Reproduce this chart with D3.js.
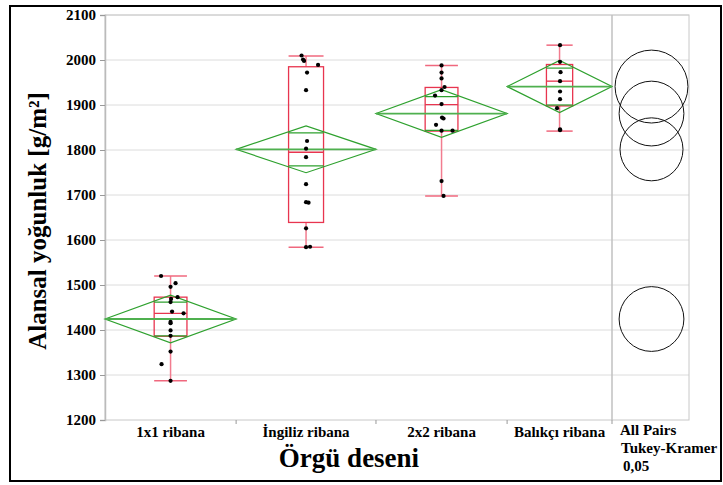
<!DOCTYPE html>
<meta charset="utf-8">
<style>
  body { margin: 0; background: #fff; }
  text { font-family: "Liberation Serif", "Times New Roman", serif; font-weight: bold; }
</style>
<body>
<div id="chart"></div>
<script src="https://d3js.org/d3.v7.min.js"></script>
<script>

// Data
var groups = ["1x1 ribana", "İngiliz ribana", "2x2 ribana", "Balıkçı ribana"];
var groupN = [15, 16, 15, 12];           // sample sizes (set the group widths)
var means  = [1424.4, 1801.5, 1881, 1941];
var ciHalf = [53, 52, 53, 58];            // half height of the mean diamonds
var qLow   = [1287, 1584, 1698, 1842];    // whisker ends
var q1     = [1386, 1639, 1842, 1898];
var median = [1437, 1795, 1901, 1953];
var q3     = [1473, 1985, 1939, 1990];
var qHigh  = [1520, 2009, 1988, 2033];
var tukeyRadius = [72, 70, 72, 81];       // comparison circle radii, in g/m²
var points = [
  [1520, 1504, 1496, 1473, 1469, 1462, 1441, 1437, 1418, 1415, 1399, 1387, 1352, 1324, 1287],
  [2010, 2001, 1998, 1989, 1972, 1933, 1820, 1803, 1784, 1724, 1684, 1683, 1626, 1584, 1585],
  [1988, 1972, 1959, 1940, 1933, 1921, 1902, 1872, 1870, 1856, 1843, 1843, 1731, 1698],
  [2033, 1996, 1973, 1953, 1930, 1913, 1893, 1846, 1844]
];
var yTicks = [1200, 1300, 1400, 1500, 1600, 1700, 1800, 1900, 2000, 2100];

// jitter of the dots as drawn (px)
var jitter = [
  [-9.5, 5, 0, 7, 0.5, 0, 1.5, 13, 0, 0, 0, 0, 0, -9, 0],
  [-4.5, -3, -2, 12, 1, 0, 1, 0, 0, 0, 0, 2.5, 0, 0, 4],
  [0, 0, 0, 3, 0, -6.5, 0, 0.5, 2, -5.5, 0, 11, 0, 2],
  [0.5, 0.5, 1, 0.5, 0.5, 0.5, -2.5, 0.5, 0.5]
];

var W = 723, H = 485;
var m = {left: 105, top: 15, right: 612, bottom: 420, cmpRight: 689};

var svg = d3.select("#chart").append("svg")
  .attr("width", W).attr("height", H);

// outer frame
svg.append("rect")
  .attr("x", 10).attr("y", 6).attr("width", 711).attr("height", 475)
  .attr("fill", "none").attr("stroke", "#000").attr("stroke-width", 2);

var y = d3.scaleLinear().domain([1200, 2100]).range([m.bottom, m.top]);

// x positions: group widths proportional to n
var cum = [0];
groupN.forEach(function(n, i) { cum.push(cum[i] + n); });
var x = d3.scaleLinear().domain([0, cum[cum.length - 1]]).range([m.left, m.right]);
function gLeft(i) { return x(cum[i]); }
function gRight(i) { return x(cum[i + 1]); }
function gMid(i) { return (gLeft(i) + gRight(i)) / 2; }
function gW(i) { return gRight(i) - gLeft(i); }

// grid lines
svg.append("g").selectAll("line")
  .data(yTicks.slice(1))
  .join("line")
    .attr("x1", m.left).attr("x2", m.cmpRight)
    .attr("y1", function(d) { return y(d); })
    .attr("y2", function(d) { return y(d); })
    .attr("stroke", "#dcdcdc").attr("stroke-width", 1);

// plot frame
svg.append("rect")
  .attr("x", m.left).attr("y", m.top).attr("width", m.cmpRight - m.left).attr("height", m.bottom - m.top)
  .attr("fill", "none").attr("stroke", "#c8c8c8").attr("stroke-width", 1);
svg.append("line")
  .attr("x1", m.right).attr("x2", m.right).attr("y1", m.top).attr("y2", m.bottom)
  .attr("stroke", "#c0c0c0").attr("stroke-width", 1.5);

// Y axis
var yAxis = svg.append("g")
  .attr("transform", "translate(" + m.left + ",0)")
  .call(d3.axisLeft(y).tickValues(yTicks).tickSize(5).tickPadding(4).tickFormat(d3.format("d")));
yAxis.select(".domain").attr("stroke", "#bbbbbb").attr("stroke-width", 1.5);
yAxis.selectAll(".tick line").attr("stroke", "#999");
yAxis.selectAll(".tick text")
  .attr("font-family", "Liberation Serif").attr("font-weight", "bold")
  .attr("font-size", 15).attr("fill", "#000");

// X group boundary ticks
svg.append("g").selectAll("line")
  .data(cum.slice(1))
  .join("line")
    .attr("x1", function(d) { return x(d); })
    .attr("x2", function(d) { return x(d); })
    .attr("y1", m.bottom).attr("y2", m.bottom + 4)
    .attr("stroke", "#999");

// group labels
svg.append("g").selectAll("text")
  .data(groups)
  .join("text")
    .attr("x", function(d, i) { return gMid(i); })
    .attr("y", 437)
    .attr("text-anchor", "middle")
    .attr("font-size", 15)
    .text(function(d) { return d; });

// box plots
var boxes = svg.append("g").selectAll("g")
  .data(groups)
  .join("g");

boxes.each(function(d, i) {
  var g = d3.select(this);
  var cx = gMid(i), bw = gW(i) * 0.25;
  // whiskers
  g.append("line")
    .attr("x1", cx).attr("x2", cx).attr("y1", y(qHigh[i])).attr("y2", y(q3[i]))
    .attr("stroke", "#f27c8f").attr("stroke-width", 1.5);
  g.append("line")
    .attr("x1", cx).attr("x2", cx).attr("y1", y(q1[i])).attr("y2", y(qLow[i]))
    .attr("stroke", "#f27c8f").attr("stroke-width", 1.5);
  [qHigh[i], qLow[i]].forEach(function(v) {
    g.append("line")
      .attr("x1", cx - bw / 2).attr("x2", cx + bw / 2)
      .attr("y1", y(v)).attr("y2", y(v))
      .attr("stroke", "#f0687e").attr("stroke-width", 1.5);
  });
  // box
  g.append("rect")
    .attr("x", cx - bw / 2).attr("width", bw)
    .attr("y", y(q3[i])).attr("height", y(q1[i]) - y(q3[i]))
    .attr("fill", "none").attr("stroke", "#e8354f").attr("stroke-width", 1.3);
  g.append("line")
    .attr("x1", cx - bw / 2).attr("x2", cx + bw / 2)
    .attr("y1", y(median[i])).attr("y2", y(median[i]))
    .attr("stroke", "#e8354f").attr("stroke-width", 1.3);
});

// mean diamonds
boxes.each(function(d, i) {
  var g = d3.select(this);
  var cx = gMid(i), bw = gW(i) * 0.25;
  var mu = means[i], c = ciHalf[i];
  var path = d3.path();
  path.moveTo(gLeft(i), y(mu));
  path.lineTo(cx, y(mu + c));
  path.lineTo(gRight(i), y(mu));
  path.lineTo(cx, y(mu - c));
  path.closePath();
  g.append("path")
    .attr("d", path.toString())
    .attr("fill", "none").attr("stroke", "#2ea12e").attr("stroke-width", 1.2);
  g.append("line")
    .attr("x1", gLeft(i)).attr("x2", gRight(i)).attr("y1", y(mu)).attr("y2", y(mu))
    .attr("stroke", "#4fb04f").attr("stroke-width", 1.8);
  // overlap marks
  [mu + c / Math.SQRT2, mu - c / Math.SQRT2].forEach(function(v) {
    g.append("line")
      .attr("x1", cx - bw / 2).attr("x2", cx + bw / 2)
      .attr("y1", y(v)).attr("y2", y(v))
      .attr("stroke", "#2ea12e").attr("stroke-width", 1.2);
  });
});

// data points
boxes.each(function(d, i) {
  d3.select(this).selectAll("circle")
    .data(points[i])
    .join("circle")
      .attr("cx", function(v, j) { return gMid(i) + jitter[i][j]; })
      .attr("cy", function(v) { return y(v); })
      .attr("r", 2.1)
      .attr("fill", "#000");
});

// Tukey-Kramer comparison circles
var ccx = (m.right + m.cmpRight) / 2 + 1;
svg.append("g").selectAll("circle")
  .data(means)
  .join("circle")
    .attr("cx", ccx)
    .attr("cy", function(d) { return y(d); })
    .attr("r", function(d, i) { return y(0) - y(tukeyRadius[i]); })
    .attr("fill", "none").attr("stroke", "#111").attr("stroke-width", 1);

// comparison label
var lab = svg.append("text").attr("font-size", 15);
lab.append("tspan").attr("x", 620).attr("y", 435).text("All Pairs");
lab.append("tspan").attr("x", 621).attr("y", 453).text("Tukey-Kramer");
lab.append("tspan").attr("x", 623).attr("y", 471).text("0,05");

// axis titles
svg.append("text")
  .attr("x", 349).attr("y", 467)
  .attr("text-anchor", "middle")
  .attr("font-size", 27)
  .text("Örgü deseni");

svg.append("text")
  .attr("transform", "translate(46,221) rotate(-90)")
  .attr("text-anchor", "middle")
  .attr("font-size", 25)
  .text("Alansal yoğunluk [g/m²]");

</script>
</body>
